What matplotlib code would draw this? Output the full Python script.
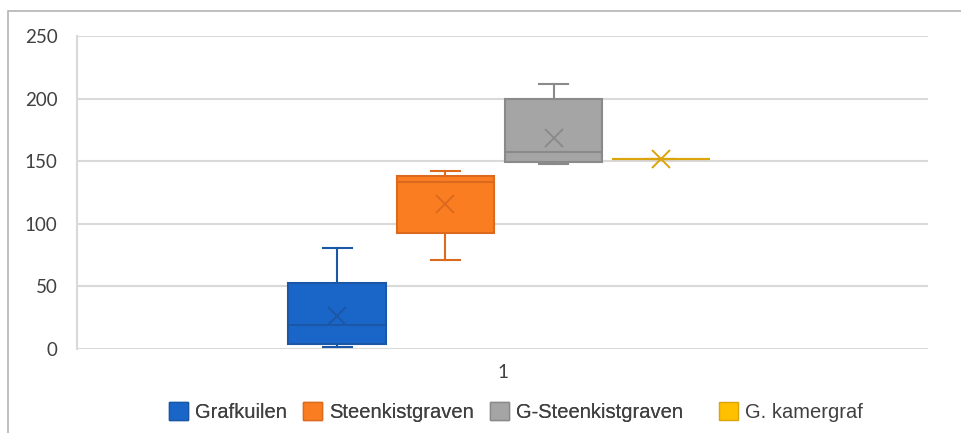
import matplotlib.pyplot as plt
from matplotlib.patches import Patch, Rectangle

# box statistics per group: whisker low, Q1, median, Q3, whisker high, mean
groups = ["Grafkuilen", "Steenkistgraven", "G-Steenkistgraven", "G. kamergraf"]
whislo = [1.5, 71, 148, 151.5]
q1 = [4, 92.5, 149, 151.5]
med = [19.5, 133, 157.5, 151.5]
q3 = [52.5, 138.5, 199.5, 151.5]
whishi = [81, 142.5, 211.5, 151.5]
means = [26, 115.5, 168.5, 151.5]

fills = ["#1a66c8", "#fb7d22", "#a5a5a5", "#ffc000"]
edges = ["#1a57a6", "#dc6a1e", "#8a8a8a", "#dba40a"]

offsets = [-0.194, -0.067, 0.060, 0.186]
box_w = 0.115

fig = plt.figure(figsize=(9.62, 4.33), dpi=100)
W, H = 962, 433

# chart area frame
fig.patches.append(Rectangle((8 / W, -0.1), 1.2, 1 - 11 / H + 0.1,
                             transform=fig.transFigure, fill=False,
                             edgecolor="#b4b4b4", linewidth=1.2))

ax = fig.add_axes([77 / W, 1 - 349 / H, (928 - 77) / W, (349 - 36) / H])

for i, g in enumerate(groups):
    stats = [dict(label=g, whislo=whislo[i], q1=q1[i], med=med[i], q3=q3[i],
                  whishi=whishi[i], mean=means[i])]
    ax.bxp(stats, positions=[1 + offsets[i]], widths=box_w, patch_artist=True,
           showmeans=True, showfliers=False, capwidths=0.034,
           boxprops=dict(facecolor=fills[i], edgecolor=edges[i], linewidth=1.5),
           medianprops=dict(color=edges[i], linewidth=1.5),
           whiskerprops=dict(color=edges[i], linewidth=1.5),
           capprops=dict(color=edges[i], linewidth=1.5),
           meanprops=dict(marker="x", markersize=13, markeredgewidth=1.4,
                          markeredgecolor=edges[i], markerfacecolor="none"),
           zorder=3)

ax.set_xlim(0.5, 1.5)
ax.set_ylim(0, 250)
ax.set_yticks([0, 50, 100, 150, 200, 250])
ax.set_xticks([1])
ax.set_xticklabels(["1"])
ax.yaxis.grid(True, color="#d9d9d9", linewidth=1.5, zorder=0)
ax.set_axisbelow(True)
for side in ["top", "right", "bottom"]:
    ax.spines[side].set_visible(False)
ax.spines["left"].set_color("#d9d9d9")
ax.spines["left"].set_linewidth(1.5)
ax.tick_params(length=0, labelsize=13.5, colors="#404040", pad=14)
ax.tick_params(axis="x", pad=11)
for lab in ax.get_yticklabels() + ax.get_xticklabels():
    lab.set_family("Lato")

handles = [Patch(facecolor=f, edgecolor=e, linewidth=1) for f, e in zip(fills, edges)]
leg_kw = dict(frameon=False, handlelength=0.95, handleheight=0.95,
              handletextpad=0.35, columnspacing=0.8, borderpad=0, borderaxespad=0,
              prop={"family": "Liberation Sans", "size": 14.5}, labelcolor="#404040")
leg1 = fig.legend(handles[:3], groups[:3], loc="center left", ncol=3,
                  bbox_to_anchor=(169 / W, 1 - 412 / H), **leg_kw)
fig.add_artist(leg1)
fig.legend(handles[3:], groups[3:], loc="center left", ncol=1,
           bbox_to_anchor=(719 / W, 1 - 412 / H), **leg_kw)

fig.savefig("out.png", dpi=100)
